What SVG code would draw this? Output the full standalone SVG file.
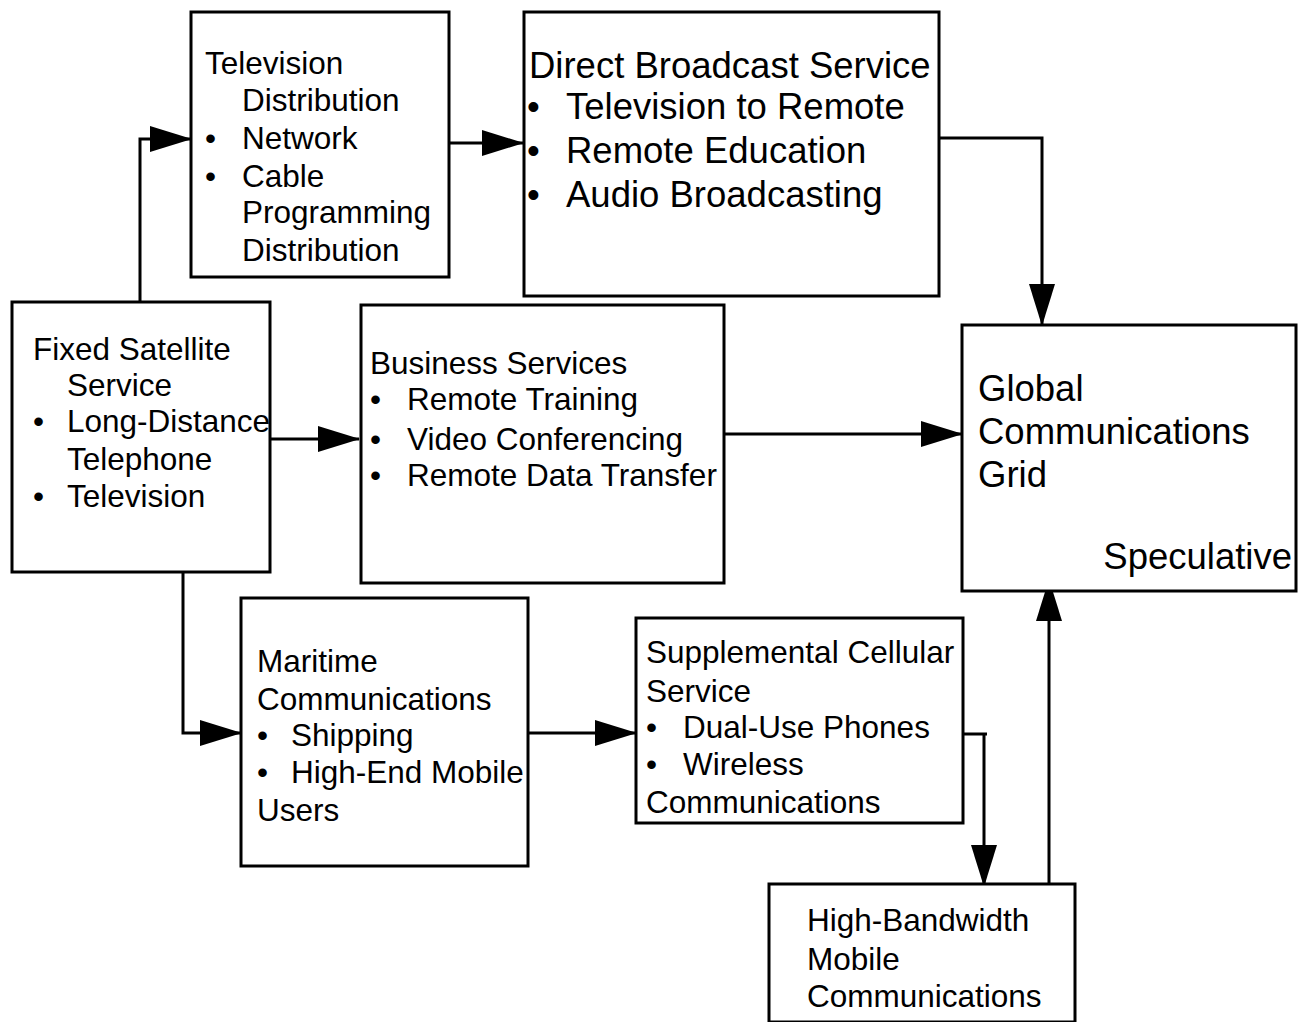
<svg xmlns="http://www.w3.org/2000/svg" width="1299" height="1022" viewBox="0 0 1299 1022">
<style>
.box{fill:#fff;stroke:#000;stroke-width:3}
.c{fill:none;stroke:#000;stroke-width:3}
text{font-family:"Liberation Sans",Arial,sans-serif;fill:#000}
.s{font-size:31.5px}
.b{font-size:36.5px}
</style>
<defs>
<marker id="ah" viewBox="0 0 42 26" refX="41" refY="13" markerWidth="42" markerHeight="26" markerUnits="userSpaceOnUse" orient="auto">
<path d="M0,0 L42,13 L0,26 Z" fill="#000"/>
</marker>
</defs>
<rect width="1299" height="1022" fill="#fff"/>
<g id="connectors">
<path class="c" d="M140,302 V139 H191" marker-end="url(#ah)"/>
<path class="c" d="M449,143 H523" marker-end="url(#ah)"/>
<path class="c" d="M939,138 H1042 V325" marker-end="url(#ah)"/>
<path class="c" d="M270,439 H359" marker-end="url(#ah)"/>
<path class="c" d="M724,434 H962" marker-end="url(#ah)"/>
<path class="c" d="M183,572 V733 H241" marker-end="url(#ah)"/>
<path class="c" d="M528,733 H636" marker-end="url(#ah)"/>
<path class="c" d="M957,734 H987 M984,734 V886" marker-end="url(#ah)"/>
<path class="c" d="M1049,884 V580" marker-end="url(#ah)"/>
</g>
<g id="tv-distribution">
<rect class="box" x="191" y="12" width="258" height="265"/>
<text class="s" x="205" y="74">Television</text>
<text class="s" x="242" y="111">Distribution</text>
<text class="s" x="205" y="149">•</text><text class="s" x="242" y="149">Network</text>
<text class="s" x="205" y="187">•</text><text class="s" x="242" y="187">Cable</text>
<text class="s" x="242" y="223">Programming</text>
<text class="s" x="242" y="261">Distribution</text>
</g>
<g id="direct-broadcast">
<rect class="box" x="524" y="12" width="415" height="284"/>
<text class="b" x="529" y="78">Direct Broadcast Service</text>
<text class="b" x="527" y="119">•</text><text class="b" x="566" y="119">Television to Remote</text>
<text class="b" x="527" y="163">•</text><text class="b" x="566" y="163">Remote Education</text>
<text class="b" x="527" y="207">•</text><text class="b" x="566" y="207">Audio Broadcasting</text>
</g>
<g id="fixed-satellite">
<rect class="box" x="12" y="302" width="258" height="270"/>
<text class="s" x="33" y="360">Fixed Satellite</text>
<text class="s" x="67" y="396">Service</text>
<text class="s" x="33" y="432">•</text><text class="s" x="67" y="432">Long-Distance</text>
<text class="s" x="67" y="470">Telephone</text>
<text class="s" x="33" y="507">•</text><text class="s" x="67" y="507">Television</text>
</g>
<g id="business-services">
<rect class="box" x="361" y="305" width="363" height="278"/>
<text class="s" x="370" y="374">Business Services</text>
<text class="s" x="370" y="410">•</text><text class="s" x="407" y="410">Remote Training</text>
<text class="s" x="370" y="450">•</text><text class="s" x="407" y="450">Video Conferencing</text>
<text class="s" x="370" y="486">•</text><text class="s" x="407" y="486">Remote Data Transfer</text>
</g>
<g id="global-grid">
<rect class="box" x="962" y="325" width="334" height="266"/>
<text class="b" x="978" y="401">Global</text>
<text class="b" x="978" y="444">Communications</text>
<text class="b" x="978" y="487">Grid</text>
<text class="b" x="1292" y="569" text-anchor="end">Speculative</text>
</g>
<g id="maritime">
<rect class="box" x="241" y="598" width="287" height="268"/>
<text class="s" x="257" y="672">Maritime</text>
<text class="s" x="257" y="710">Communications</text>
<text class="s" x="257" y="746">•</text><text class="s" x="291" y="746">Shipping</text>
<text class="s" x="257" y="783">•</text><text class="s" x="291" y="783">High-End Mobile</text>
<text class="s" x="257" y="821">Users</text>
</g>
<g id="supplemental-cellular">
<rect class="box" x="636" y="618" width="327" height="205"/>
<text class="s" x="646" y="663">Supplemental Cellular</text>
<text class="s" x="646" y="702">Service</text>
<text class="s" x="646" y="738">•</text><text class="s" x="683" y="738">Dual-Use Phones</text>
<text class="s" x="646" y="775">•</text><text class="s" x="683" y="775">Wireless</text>
<text class="s" x="646" y="813">Communications</text>
</g>
<g id="high-bandwidth">
<rect class="box" x="769" y="884" width="306" height="138"/>
<text class="s" x="807" y="931">High-Bandwidth</text>
<text class="s" x="807" y="970">Mobile</text>
<text class="s" x="807" y="1007">Communications</text>
</g>
</svg>
